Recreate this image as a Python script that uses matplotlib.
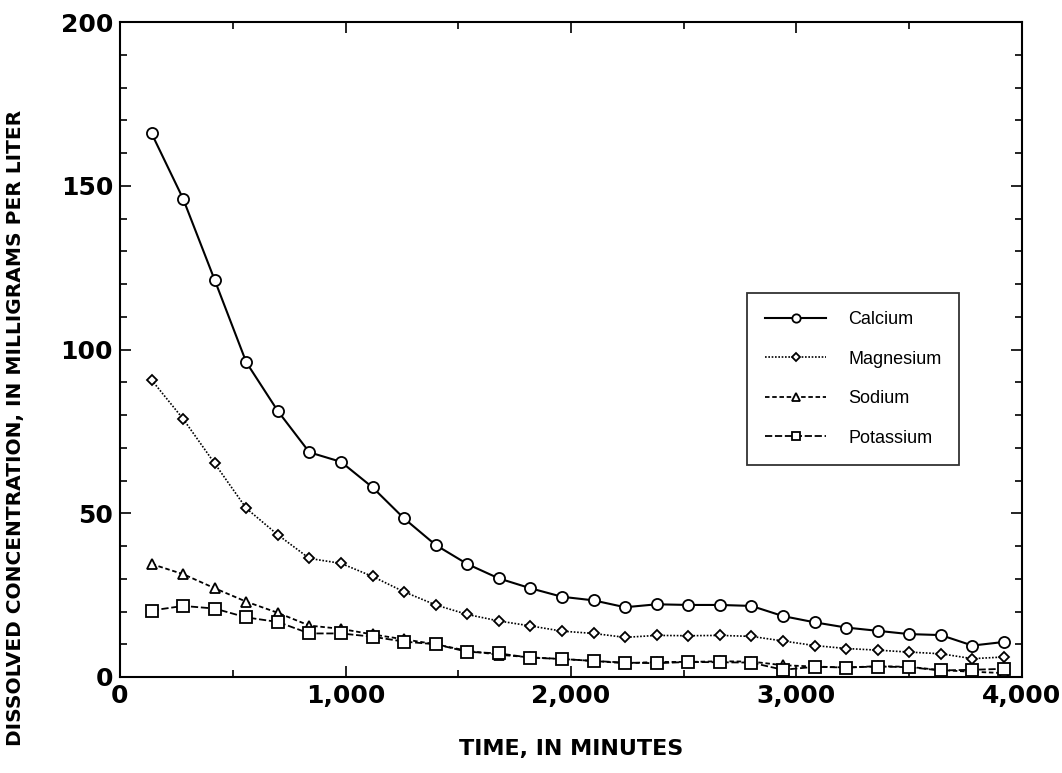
import matplotlib
matplotlib.use("Agg")
import matplotlib.pyplot as plt
from matplotlib.ticker import MultipleLocator, FuncFormatter

times = [140, 280, 420, 560, 700, 840, 980, 1120, 1260, 1400, 1540, 1680, 1820, 1960,
         2100, 2240, 2380, 2520, 2660, 2800, 2940, 3080, 3220, 3360, 3500, 3640, 3780, 3920]

calcium = [166.0, 146.0, 121.2, 96.1, 81.2, 68.6, 65.7, 57.9, 48.4, 40.3, 34.5, 30.1, 27.1, 24.5,
           23.4, 21.3, 22.2, 22.0, 22.0, 21.7, 18.6, 16.7, 15.1, 14.1, 13.1, 12.8, 9.6, 10.7]
magnesium = [90.7, 78.8, 65.2, 51.5, 43.4, 36.2, 34.7, 30.7, 26.0, 22.0, 19.1, 17.1, 15.6, 14.0,
             13.3, 12.1, 12.7, 12.6, 12.7, 12.4, 11.0, 9.6, 8.7, 8.2, 7.6, 7.1, 5.6, 6.1]
sodium = [34.5, 31.4, 27.1, 23.0, 19.6, 15.7, 14.7, 13.0, 11.5, 10.0, 8.0, 6.8, 6.0, 5.5,
          4.9, 4.2, 4.6, 4.6, 4.8, 4.7, 3.6, 3.2, 2.9, 3.3, 3.1, 2.1, 1.6, 1.2]
potassium = [20.3, 21.7, 20.9, 18.2, 16.8, 13.3, 13.3, 12.3, 10.8, 10.0, 7.7, 7.2, 5.9, 5.5,
             4.9, 4.4, 4.2, 4.6, 4.5, 4.4, 2.2, 3.1, 2.9, 3.2, 3.0, 2.0, 2.2, 2.5]

series_names = ["Calcium", "Magnesium", "Sodium", "Potassium"]

fig = plt.figure(figsize=(10.62, 7.73), dpi=100)
ax = fig.add_axes([120/1062, 96/773, 902/1062, 655/773])

styles = [
    dict(linestyle="-", marker="o", markersize=8, linewidth=1.5),
    dict(linestyle=(0, (1, 1)), marker="D", markersize=5.5, linewidth=1.2),
    dict(linestyle=(0, (2.5, 1.5)), marker="^", markersize=7.5, linewidth=1.3),
    dict(linestyle=(0, (4, 1.5)), marker="s", markersize=8, linewidth=1.3),
]
data = [calcium, magnesium, sodium, potassium]
for name, vals, st in zip(series_names, data, styles):
    ax.plot(times, vals, color="black", markerfacecolor="white", markeredgecolor="black",
            markeredgewidth=1.3, label=name, **st)

ax.set_xlim(0, 4000)
ax.set_ylim(0, 200)
ax.xaxis.set_major_locator(MultipleLocator(1000))
ax.xaxis.set_minor_locator(MultipleLocator(500))
ax.yaxis.set_major_locator(MultipleLocator(50))
ax.yaxis.set_minor_locator(MultipleLocator(10))
ax.xaxis.set_major_formatter(FuncFormatter(lambda v, p: f"{int(v):,}"))
ax.tick_params(which="both", direction="in", top=True, right=True, width=1.2)
ax.tick_params(which="major", length=8, labelsize=18, pad=5)
ax.tick_params(which="minor", length=5)
for lab in ax.get_xticklabels() + ax.get_yticklabels():
    lab.set_fontweight("heavy")
for sp in ax.spines.values():
    sp.set_linewidth(1.5)

ax.set_xlabel("TIME, IN MINUTES", fontsize=16, fontweight="bold")
ax.xaxis.set_label_coords(0.5, -0.095)
ax.set_ylabel("DISSOLVED CONCENTRATION, IN MILLIGRAMS PER LITER", fontsize=14.5,
              fontweight="bold")
ax.yaxis.set_label_coords(-0.105, (677 - 428) / 655)

leg = ax.legend(loc="upper left", bbox_to_anchor=((747-120)/902, (677-293)/655),
                prop={"family": "Liberation Sans", "size": 13}, frameon=True,
                fancybox=False, edgecolor="black", markerscale=0.75,
                handlelength=3.4, labelspacing=1.25, borderpad=1.0, handletextpad=1.2,
                borderaxespad=0)
leg.get_frame().set_linewidth(1.3)

fig.savefig("out.png", dpi=100)
